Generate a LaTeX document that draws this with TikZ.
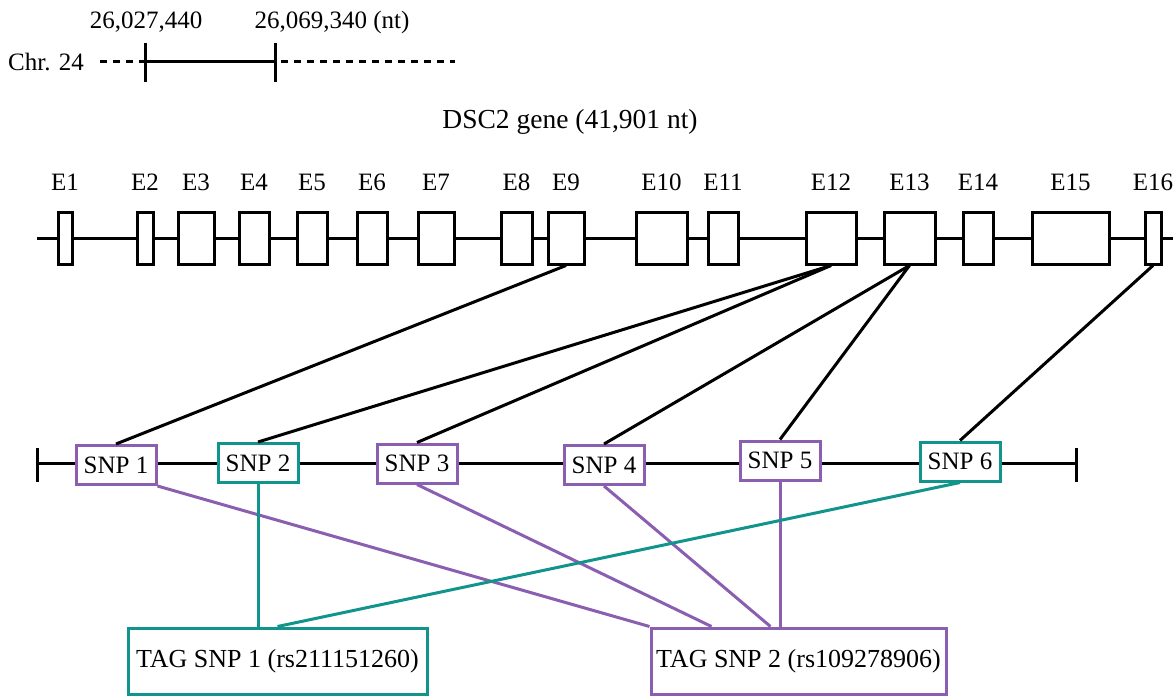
\documentclass[tikz,border=0pt]{standalone}
\usepackage{fontspec}
\setmainfont{Liberation Serif}
\definecolor{snppurple}{RGB}{138,94,176}
\definecolor{snpteal}{RGB}{16,148,140}
\tikzset{
  exon/.style={draw, fill=white, inner sep=0pt, minimum height=52pt},
  snp/.style={draw=#1, fill=white, inner sep=0pt, minimum width=80pt, minimum height=39pt},
  tagsnp/.style={draw=#1, fill=white, inner sep=0pt, minimum height=66pt, font=\fontsize{26}{30}\selectfont},
}
\begin{document}
\begin{tikzpicture}[x=1pt, y=-1pt, line width=3pt, font=\fontsize{25}{30}\selectfont]
        \useasboundingbox (0,0) rectangle (1175,698);

        \node (chr) at (46,62) {Chr. 24};
        \node (pos1) at (146,22) {26,027,440};
        \node (pos2) at (332,22) {26,069,340 (nt)};
        \draw[dash pattern=on 7pt off 6pt] (100,62) -- (145,62);
        \draw[] (145,62) -- (275,62);
        \draw[dash pattern=on 7pt off 6pt] (281,62) -- (455,62);
        \draw[] (145,43) -- (145,82);
        \draw[] (275,43) -- (275,82);

        \node[font=\fontsize{27.5}{32}\selectfont] (gene) at (570,122) {DSC2 gene (41,901 nt)};

        \draw[] (37,238) -- (1173,238);
        \foreach \i/\l/\r in {1/58/72, 2/137/153, 3/178/214, 4/239/269, 5/297/327,
                              6/357/387, 7/418/454, 8/501/532, 9/548/584, 10/636/687,
                              11/708/738, 12/806/856, 13/884/935, 14/963/993,
                              15/1032/1109, 16/1145/1161}
        {
            \node[exon, minimum width={(\r-\l)*1pt}] (e\i) at ({(\l+\r)/2},238) {};
            \node (le\i) at ({(\l+\r)/2},182) {E\i};
        }

        \draw[] (37,463) -- (1076,463);
        \draw[] (37,448) -- (37,482);
        \draw[] (1076,448) -- (1076,482);

        \node[snp=snppurple] (snp1) at (116,465) {SNP 1};
        \node[snp=snpteal] (snp2) at (258,463) {SNP 2};
        \node[snp=snppurple] (snp3) at (417,463.5) {SNP 3};
        \node[snp=snppurple] (snp4) at (604,465) {SNP 4};
        \node[snp=snppurple] (snp5) at (780,460.5) {SNP 5};
        \node[snp=snpteal] (snp6) at (960,461.5) {SNP 6};

        \node[tagsnp=snpteal, minimum width=299pt] (tag1) at (277.5,661) {TAG SNP 1 (rs211151260)};
        \node[tagsnp=snppurple, minimum width=295pt] (tag2) at (798.5,661) {TAG SNP 2 (rs109278906)};

        \draw[] (e9.south) -- (snp1.north);
        \draw[] (e12.south) -- (snp2.north);
        \draw[] (e12.south) -- (snp3.north);
        \draw[] (e13.south) -- (snp4.north);
        \draw[] (e13.south) -- (snp5.north);
        \draw[] (e16.south) -- (snp6.north);

        \draw[snppurple] (snp1.south east) -- (tag2.north west);
        \draw[snppurple] (snp3.south) -- ([xshift=62pt]tag2.north west);
        \draw[snppurple] (snp4.south) -- ([xshift=121pt]tag2.north west);
        \draw[snppurple] (snp5.south) -- (snp5.south |- tag2.north);
        \draw[snpteal] (snp2.south) -- (snp2.south |- tag1.north);
        \draw[snpteal] (snp6.south) -- (tag1.north);
    \end{tikzpicture}
\end{document}
